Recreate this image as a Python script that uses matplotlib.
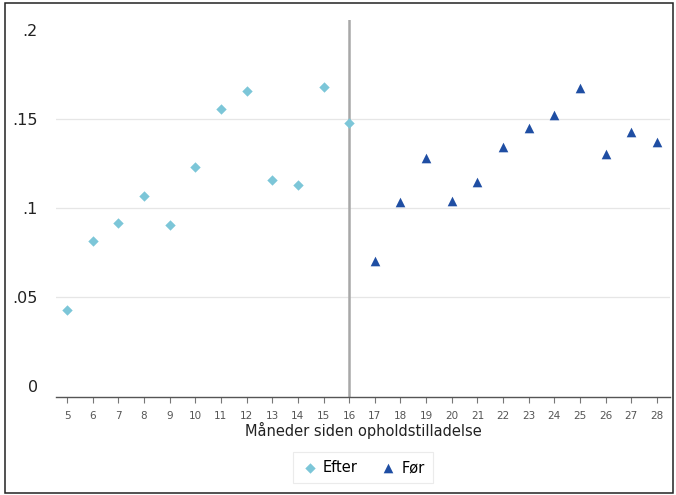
import matplotlib.pyplot as plt
from matplotlib.patches import Rectangle

# data
efter_x = [5, 6, 7, 8, 9, 10, 11, 12, 13, 14, 15, 16]
efter_y = [0.0427, 0.0816, 0.0917, 0.1069, 0.0906, 0.1232, 0.1558, 0.1661, 0.1158, 0.1130, 0.1680, 0.1481]
foer_x = [17, 18, 19, 20, 21, 22, 23, 24, 25, 26, 27, 28]
foer_y = [0.0703, 0.1035, 0.1284, 0.1040, 0.1147, 0.1346, 0.1451, 0.1524, 0.1678, 0.1305, 0.1427, 0.1374]
y_ticks = [0, 0.05, 0.1, 0.15, 0.2]
y_labels = ["0", ".05", ".1", ".15", ".2"]
x_ticks = list(range(5, 29))
cutoff = 16

fig = plt.figure(figsize=(6.76, 4.95), dpi=100)
fig.patches.append(Rectangle((0.007, 0.004), 0.988, 0.99, transform=fig.transFigure,
                             fill=False, edgecolor="#222222", linewidth=1.1))

ax = fig.add_axes([0.0828, 0.198, 0.908, 0.7616])
ax.set_xlim(4.57, 28.5)
ax.set_ylim(-0.0062, 0.2059)

for yv in [0.05, 0.1, 0.15]:
    ax.axhline(yv, color="#e6e6e6", linewidth=0.9, zorder=0)
ax.axvline(cutoff, color="#a8a8a8", linewidth=1.8, zorder=1)

ax.scatter(efter_x, efter_y, marker="D", s=28, color="#7cc6d8", label="Efter", zorder=3, linewidths=0)
ax.scatter(foer_x, foer_y, marker="^", s=48, color="#1f4ea3", label="Før", zorder=3, linewidths=0)

for side in ["top", "right", "left"]:
    ax.spines[side].set_visible(False)
ax.spines["bottom"].set_color("#555555")
ax.spines["bottom"].set_linewidth(1.0)

ax.set_xticks(x_ticks)
ax.set_xticklabels([str(v) for v in x_ticks], fontsize=7.5, color="#555555")
ax.tick_params(axis="x", length=4, width=0.8, color="#777777", pad=6)
ax.set_yticks(y_ticks)
ax.set_yticklabels(y_labels, fontsize=11.5, color="#222222")
ax.tick_params(axis="y", length=0, pad=13)

ax.set_xlabel("Måneder siden opholdstilladelse", fontsize=10.5, color="#222222", labelpad=1)

leg = ax.legend(loc="upper center", bbox_to_anchor=(0.5, -0.146), ncol=2, fontsize=10.5,
                frameon=True, fancybox=False, handletextpad=0.3, columnspacing=1.5,
                borderpad=0.55, borderaxespad=0, scatterpoints=1, handlelength=1.2)
leg.get_frame().set_edgecolor("#e6e6e6")
leg.get_frame().set_linewidth(0.8)

fig.savefig("out.png", dpi=100)
